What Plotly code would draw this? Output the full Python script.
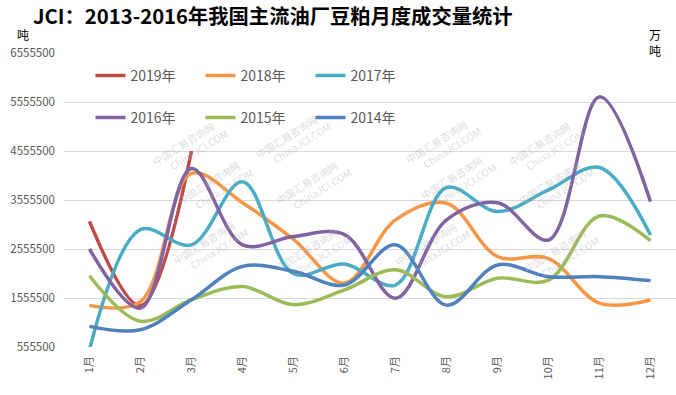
import plotly.graph_objects as go

months = ["1月", "2月", "3月", "4月", "5月", "6月", "7月", "8月", "9月", "10月", "11月", "12月"]

y2019 = [3120000, 1400000, 4555500]
y2018 = [1405000, 1480000, 4100000, 3500000, 2750000, 1860000, 3150000, 3490000, 2400000, 2360000, 1450000, 1515000]
y2017 = [500000, 2950000, 2640000, 3930000, 2050000, 2250000, 1820000, 3810000, 3320000, 3760000, 4220000, 2840000]
y2016 = [2555500, 1350000, 4200000, 2640000, 2810000, 2850000, 1550000, 3150000, 3500000, 2740000, 5660000, 3520000]
y2015 = [2010000, 1080000, 1520000, 1790000, 1420000, 1720000, 2130000, 1580000, 1960000, 1920000, 3230000, 2725000]
y2014 = [977000, 909000, 1520000, 2200000, 2100000, 1820000, 2640000, 1410000, 2230000, 1990000, 1990000, 1910000]

series = [
    ("2019年", y2019, "#BE4B48", "legend"),
    ("2018年", y2018, "#F79646", "legend"),
    ("2017年", y2017, "#4BACC6", "legend"),
    ("2016年", y2016, "#8064A2", "legend2"),
    ("2015年", y2015, "#9BBB59", "legend2"),
    ("2014年", y2014, "#4F81BD", "legend2"),
]

L, T, W, H = 63.5, 53, 612.5, 294


def px2paper(px, py):
    return (px - L) / W, (T + H - py) / H


fig = go.Figure()

for name, vals, color, lg in series:
    fig.add_trace(go.Scatter(
        x=months[:len(vals)], y=vals, name=name, mode="lines",
        line=dict(color=color, width=3.5, shape="spline", smoothing=1.0),
        legend=lg, hoverinfo="skip"))

# faint watermarks
wm_pos = [(140, 112), (290, 105), (440, 110), (590, 112),
          (165, 188), (310, 188), (455, 183), (600, 188),
          (160, 285), (310, 292), (475, 287), (605, 293)]
for (px, py) in wm_pos:
    ax, ay = px2paper(px, py)
    fig.add_annotation(x=ax, y=ay, xref="paper", yref="paper",
                       text="中国汇易咨询网<br>　　ChinaJCI.COM", showarrow=False, textangle=-32,
                       font=dict(size=10, color="rgba(175,175,175,0.45)", family="Noto Sans CJK SC"))

fig.update_layout(
    width=676, height=395,
    margin=dict(l=L, r=0, t=T, b=395 - T - H),
    plot_bgcolor="white", paper_bgcolor="white",
    font=dict(family="Noto Sans CJK SC, Noto Sans, sans-serif", color="#595959"),
    title=dict(text="<b>JCI：2013-2016年我国主流油厂豆粕月度成交量统计</b>",
               x=33 / 676, xanchor="left", y=1 - 17 / 395, yanchor="middle",
               font=dict(size=20.3, color="#000000", family="Noto Sans CJK SC")),
    showlegend=True,
    legend=dict(orientation="h", x=px2paper(90, 0)[0], y=px2paper(0, 76)[1], xanchor="left", yanchor="middle",
                entrywidth=65, entrywidthmode="pixels", bgcolor="rgba(0,0,0,0)",
                font=dict(size=14, color="#595959"), traceorder="normal"),
    legend2=dict(orientation="h", x=px2paper(90, 0)[0], y=px2paper(0, 118)[1], xanchor="left", yanchor="middle",
                 entrywidth=65, entrywidthmode="pixels", bgcolor="rgba(0,0,0,0)",
                 font=dict(size=14, color="#595959"), traceorder="normal"),
    xaxis=dict(type="category", tickangle=-90, showgrid=False, showline=False,
               ticks="", ticklabelstandoff=6,
               tickfont=dict(size=11, color="#595959"), range=[-0.5, 11.5]),
    yaxis=dict(range=[555500, 6555500], tick0=555500, dtick=1000000, showgrid=True,
               gridcolor="#D9D9D9", gridwidth=1, zeroline=False, ticks="", ticklabelstandoff=8,
               tickformat="d", tickfont=dict(size=11.5, color="#595959"), showline=False),
)

ux, uy = px2paper(22, 35)
fig.add_annotation(x=ux, y=uy, xref="paper", yref="paper", xanchor="center", yanchor="middle",
                   text="吨", showarrow=False, font=dict(size=12, color="#000000"))
ux, uy = px2paper(655, 43)
fig.add_annotation(x=ux, y=uy, xref="paper", yref="paper", xanchor="center", yanchor="middle",
                   text="万<br>吨", showarrow=False, font=dict(size=12, color="#000000"))

fig.write_html("out.html", config={"displayModeBar": False},
               post_script="document.body.style.margin='0';document.body.style.padding='0';")
